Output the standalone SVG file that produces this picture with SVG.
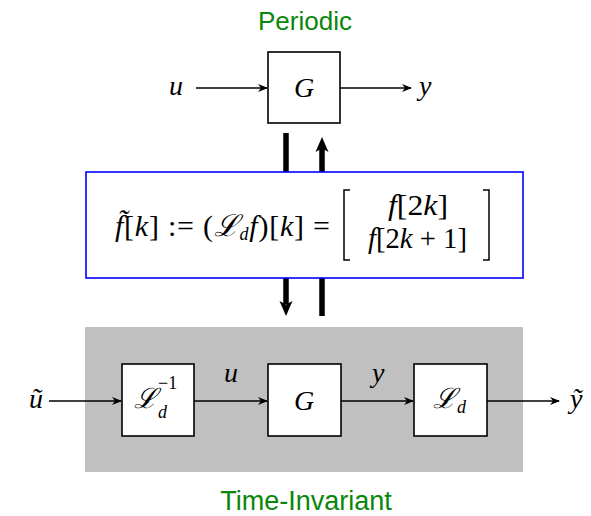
<svg xmlns="http://www.w3.org/2000/svg" width="591" height="516" viewBox="0 0 591 516">
<defs>
<style>
.box{fill:#fff;stroke:#000;stroke-width:1.6}
.ln{fill:none;stroke:#000;stroke-width:1.4}
.thick{fill:none;stroke:#000;stroke-width:5.5}
.m{font-family:"Liberation Serif","DejaVu Serif",serif;font-style:italic;font-size:28px;fill:#000}
.eq{font-size:30px}
.s{font-size:18px}
.up{font-style:normal}
.g{font-family:"Liberation Sans",Arial,sans-serif;font-size:26px;fill:#0a870a;text-anchor:middle}
</style>
<marker id="ah" markerWidth="10" markerHeight="8" viewBox="0 0 10 8" refX="9" refY="4" orient="auto" markerUnits="userSpaceOnUse">
<path d="M0,0 L10,4 L0,8 L3,4 Z" fill="#000"/>
</marker>
</defs>
<rect x="85" y="327" width="438" height="145" fill="#c0c0c0"/>
<text class="g" x="305" y="30">Periodic</text>
<text class="g" x="306" y="510" style="font-size:27px">Time-Invariant</text>
<g id="connectors">
<line class="ln" x1="196" y1="88" x2="267" y2="88" marker-end="url(#ah)"/>
<line class="ln" x1="340" y1="88" x2="411" y2="88" marker-end="url(#ah)"/>
<line class="thick" x1="286" y1="133" x2="286" y2="172"/>
<path d="M322,172 L322,148" class="thick"/>
<path d="M315.5,152 L322,137 L328.5,152 L322,148.5 Z" fill="#000"/>
<path d="M286,278 L286,304" class="thick"/>
<path d="M279.5,301 L286,316 L292.5,301 L286,304.5 Z" fill="#000"/>
<line class="thick" x1="322" y1="278" x2="322" y2="316"/>
<line class="ln" x1="49" y1="401" x2="121" y2="401" marker-end="url(#ah)"/>
<line class="ln" x1="194" y1="401" x2="267" y2="401" marker-end="url(#ah)"/>
<line class="ln" x1="341" y1="401" x2="413" y2="401" marker-end="url(#ah)"/>
<line class="ln" x1="487" y1="401" x2="559" y2="401" marker-end="url(#ah)"/>
</g>
<g id="u_top"><text class="m" x="169" y="95">u</text></g>
<g id="y_top"><text class="m" x="419" y="95">y</text></g>
<g id="G_top">
<rect class="box" x="268" y="52" width="72" height="71"/>
<text class="m" x="304" y="97" text-anchor="middle">G</text>
</g>
<g id="lifting">
<rect x="86" y="172" width="437" height="106" fill="#fff" stroke="#0000ff" stroke-width="1.6"/>
<text class="m eq" x="115" y="236" textLength="215" lengthAdjust="spacing">f̃<tspan class="up">[</tspan>k<tspan class="up">] := (</tspan>ℒ<tspan class="s" dy="4">d</tspan><tspan dy="-4">f</tspan><tspan class="up">)[</tspan>k<tspan class="up">] =</tspan></text>
<path d="M350,190 L344,190 L344,260 L350,260" fill="none" stroke="#000" stroke-width="1.5"/>
<path d="M483,190 L489,190 L489,260 L483,260" fill="none" stroke="#000" stroke-width="1.5"/>
<text class="m eq" x="388" y="215" textLength="60" lengthAdjust="spacingAndGlyphs">f<tspan class="up">[2</tspan>k<tspan class="up">]</tspan></text>
<text class="m eq" x="368" y="248" textLength="99" lengthAdjust="spacingAndGlyphs">f<tspan class="up">[2</tspan>k<tspan class="up"> + 1]</tspan></text>
</g>
<g id="u_tilde"><text class="m" x="29" y="408">ũ</text></g>
<g id="Linv">
<rect class="box" x="122" y="364" width="72" height="72"/>
<text class="m" x="134" y="408">ℒ</text>
<text class="m s" x="158" y="418">d</text>
<text class="m s up" x="158" y="389">−1</text>
</g>
<g id="u_mid"><text class="m" x="224" y="382">u</text></g>
<g id="G_bot">
<rect class="box" x="268" y="364" width="73" height="72"/>
<text class="m" x="304" y="410" text-anchor="middle">G</text>
</g>
<g id="y_mid"><text class="m" x="372" y="382">y</text></g>
<g id="Ld">
<rect class="box" x="414" y="364" width="73" height="72"/>
<text class="m" x="433" y="408">ℒ</text>
<text class="m s" x="457" y="413">d</text>
</g>
<g id="y_tilde"><text class="m" x="570" y="408">ỹ</text></g>
</svg>
